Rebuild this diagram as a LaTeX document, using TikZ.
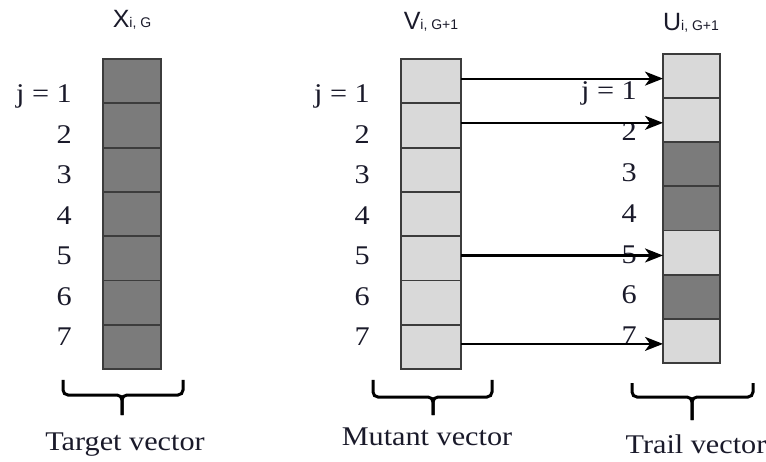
\documentclass[tikz,border=0pt]{standalone}
\usepackage{fontspec}
\setmainfont[FakeStretch=1.12]{Liberation Serif}
\newfontfamily\titlefont{Liberation Sans}
\usetikzlibrary{arrows.meta,calc}
\definecolor{celldark}{HTML}{7B7B7B}
\definecolor{celllight}{HTML}{D9D9D9}
\definecolor{cellborder}{HTML}{3C3C3C}
\definecolor{inktext}{HTML}{1A1A2A}
\tikzset{
  cellbox/.style={draw=cellborder, line width=1.8pt, minimum width=58pt, minimum height=44.2pt, inner sep=0pt, outer sep=0pt},
  darkcell/.style={cellbox, fill=celldark},
  lightcell/.style={cellbox, fill=celllight},
  idx/.style={font=\fontsize{27}{30}\selectfont, text=inktext, anchor=base east, inner sep=0pt},
  ttl/.style={anchor=base, text=inktext, inner sep=0pt},
  capt/.style={font=\fontsize{27}{30}\selectfont, text=inktext, anchor=base, inner sep=0pt},
  bracepath/.style={line width=3pt, rounded corners=5pt},
  arr/.style={line width=2.2pt, -{Stealth[length=18pt,width=14pt,inset=5pt]}}
}
\newcommand{\vtitle}[2]{{\titlefont\fontsize{25}{25}\selectfont #1\fontsize{14}{14}\selectfont #2}}
\begin{document}
\begin{tikzpicture}[x=1pt,y=-1pt]
\useasboundingbox (0,0) rectangle (766,462);

% titles
\node[ttl] (tx) at (132,28) {\vtitle{X}{i, G}};
\node[ttl] (tv) at (431,30) {\vtitle{V}{i, G+1}};
\node[ttl] (tu) at (691,31) {\vtitle{U}{i, G+1}};

% target vector cells
\foreach \k in {1,...,7}
  \node[darkcell] (x\k) at (132,{59+44.29*(\k-0.5)}) {};
% mutant vector cells
\foreach \k in {1,...,7}
  \node[lightcell, minimum width=60pt] (v\k) at (431,{59+44.29*(\k-0.5)}) {};
% trail vector cells
\foreach \k/\s in {1/lightcell,2/lightcell,3/darkcell,4/darkcell,5/lightcell,6/darkcell,7/lightcell}
  \node[\s, minimum width=57pt, minimum height=44.1pt] (u\k) at (691.5,{54+44.14*(\k-0.5)}) {};

% index labels
\node[idx] (xl1) at (72,103) {j = 1};
\node[idx] (vl1) at (370,103) {j = 1};
\node[idx] (ul1) at (637,100) {j = 1};
\foreach \k in {2,...,7} {
  \node[idx] (xl\k) at (72,{103+40.5*(\k-1)}) {\k};
  \node[idx] (vl\k) at (370,{103+40.5*(\k-1)}) {\k};
  \node[idx] (ul\k) at (637,{100+40.8*(\k-1)}) {\k};
}

% arrows
\foreach \k in {1,2,5,7} {
  \coordinate (m\k) at ($(v\k.east)!0.5!(u\k.west)$);
  \draw[arr] (v\k.east |- m\k) -- (u\k.west |- m\k);
}

% braces
\coordinate (bxl) at (63,380);  \coordinate (bxr) at (183,380);
\coordinate (bxt) at (122,415);
\draw[bracepath] (bxl) -- (63,395) -- (122,395) -- (bxt);
\draw[bracepath] (bxr) -- (183,395) -- (122,395) -- (bxt);
\coordinate (bvl) at (373,380); \coordinate (bvr) at (492,380);
\coordinate (bvt) at (433,415);
\draw[bracepath] (bvl) -- (373,397) -- (433,397) -- (bvt);
\draw[bracepath] (bvr) -- (492,397) -- (433,397) -- (bvt);
\coordinate (bul) at (632,383); \coordinate (bur) at (753,383);
\coordinate (but) at (692,420);
\draw[bracepath] (bul) -- (632,397) -- (692,397) -- (but);
\draw[bracepath] (bur) -- (753,397) -- (692,397) -- (but);

% captions
\node[capt] (cx) at (125,450) {Target vector};
\node[capt] (cv) at (427,445) {Mutant vector};
\node[capt] (cu) at (696,453) {Trail vector};
\end{tikzpicture}
\end{document}
